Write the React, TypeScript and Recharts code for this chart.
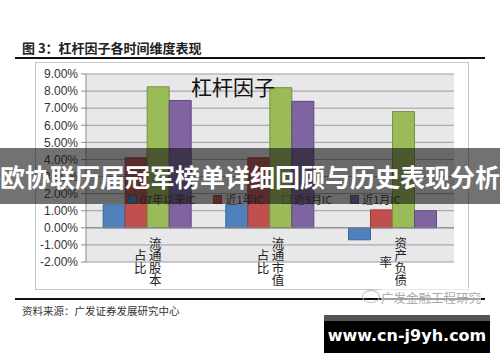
import React from "react";
import { BarChart, Bar, XAxis, YAxis, CartesianGrid, ReferenceLine } from "recharts";

const categories = ["流通股本占比", "流通市值占比", "资产负债率"];
const seriesNames = ["07年以来IC", "近1年IC", "近3月IC", "近1月IC"];
const ic07 = [1.35, 1.35, -0.7];
const ic1y = [4.1, 4.1, 1.05];
const ic3m = [8.25, 8.2, 6.8];
const ic1m = [7.45, 7.4, 1.0];
const yTicks = [-2, -1, 0, 1, 2, 3, 4, 5, 6, 7, 8, 9];

const fills = ["#4f81bd", "#c0504d", "#9bbb59", "#8064a2"];
const strokes = ["#3a6396", "#963c3a", "#77923f", "#5f4a7c"];
const keys = ["ic07", "ic1y", "ic3m", "ic1m"];

const data = categories.map((name, i) => ({
  name,
  ic07: ic07[i],
  ic1y: ic1y[i],
  ic3m: ic3m[i],
  ic1m: ic1m[i],
}));

const CJK = '"Noto Sans CJK SC", "Noto Sans", sans-serif';

const CatTick = (props: any) => {
  const { x, y, payload } = props;
  const label: string = String(payload.value);
  const cols: string[] = [];
  for (let i = 0; i < label.length; i += 4) cols.push(label.slice(i, i + 4));
  const step = 12.5;
  return (
    <g>
      {cols.map((col, ci) => {
        const cx = x + 8 - ci * 15;
        const startY = y - 1 - ((col.length - 1) * step) / 2;
        return col.split("").map((ch, k) => (
          <text
            key={ci + "-" + k}
            x={cx}
            y={startY + k * step}
            textAnchor="middle"
            dominantBaseline="central"
            fontSize={12.5}
            fontFamily={CJK}
            fill="#222"
          >
            {ch}
          </text>
        ));
      })}
    </g>
  );
};

const LegendBox = () => (
  <div style={{ display: "flex", gap: 18, fontFamily: CJK, fontSize: 11, color: "#333", alignItems: "center" }}>
    {seriesNames.map((n, i) => (
      <div key={n} style={{ display: "flex", alignItems: "center", gap: 3 }}>
        <span style={{ width: 7, height: 7, background: fills[i], border: `1px solid ${strokes[i]}`, display: "inline-block" }} />
        <span>{n}</span>
      </div>
    ))}
  </div>
);

export default function App() {
  return (
    <div style={{ position: "absolute", left: 0, top: 0, width: 500, height: 362, background: "#fff", overflow: "hidden" }}>
      <div style={{ position: "absolute", left: 22, top: 38, fontFamily: CJK, fontWeight: 700, fontSize: 13, color: "#222", whiteSpace: "nowrap" }}>
        图 3：杠杆因子各时间维度表现
      </div>
      <div style={{ position: "absolute", left: 15, top: 57, width: 470, height: 1.5, background: "#111" }} />

      <div style={{ position: "absolute", left: 35, top: 62, width: 432, height: 226, border: "1px solid #c4c4c4" }} />
      <div style={{ position: "absolute", left: 35, top: 62 }}>
        <BarChart
          width={434}
          height={228}
          data={data}
          margin={{ top: 12, right: 15, bottom: 0, left: 0 }}
          barGap={0}
          barCategoryGap="14%"
        >
          <CartesianGrid horizontal vertical={false} stroke="#9c9c9c" fill="#e8e8ea" fillOpacity={1} />
          <XAxis
            dataKey="name"
            axisLine={false}
            tickLine={false}
            tickSize={0}
            tickMargin={0}
            height={28}
            tick={<CatTick />}
            interval={0}
          />
          <YAxis
            domain={[-2, 9]}
            ticks={yTicks}
            width={51}
            interval={0}
            tickSize={5}
            tickMargin={3}
            axisLine={{ stroke: "#888" }}
            tickLine={{ stroke: "#888" }}
            tickFormatter={(v: number) => v.toFixed(2) + "%"}
            tick={{ fontSize: 12, fill: "#333", fontFamily: '"Liberation Sans", Arial, sans-serif' }}
          />
          <ReferenceLine y={0} stroke="#888" strokeWidth={1} />
          {keys.map((k, i) => (
            <Bar key={k} dataKey={k} name={seriesNames[i]} fill={fills[i]} stroke={strokes[i]} strokeWidth={1} isAnimationActive={false} />
          ))}
        </BarChart>
      </div>
      <div style={{ position: "absolute", left: 128, top: 191 }}>
        <LegendBox />
      </div>
      <div style={{ position: "absolute", left: 153, top: 71, width: 160, textAlign: "center", fontFamily: CJK, fontSize: 21, color: "#111", whiteSpace: "nowrap" }}>
        杠杆因子
      </div>

      <div style={{ position: "absolute", left: 15, top: 298, width: 470, height: 1.5, background: "#111" }} />
      <div style={{ position: "absolute", left: 22, top: 303, fontFamily: CJK, fontSize: 10.5, color: "#333", whiteSpace: "nowrap" }}>
        资料来源：广发证券发展研究中心
      </div>
      <div style={{ position: "absolute", left: 362, top: 290, width: 16, height: 11, borderRadius: "50%", border: "1px solid #bbb" }} />
      <div style={{ position: "absolute", left: 381, top: 288, fontFamily: CJK, fontSize: 12.5, color: "#aaa", whiteSpace: "nowrap", background: "rgba(255,255,255,0.6)" }}>
        广发金融工程研究
      </div>

      <div style={{ position: "absolute", left: 0, top: 148, width: 500, height: 56, background: "rgba(20,20,20,0.6)" }} />
      <div style={{ position: "absolute", left: 0, top: 160, width: 500, textAlign: "center", fontFamily: CJK, fontWeight: 700, fontSize: 25, lineHeight: "32px", color: "#fff", whiteSpace: "nowrap" }}>
        欧协联历届冠军榜单详细回顾与历史表现分析
      </div>

      <div style={{ position: "absolute", left: 324, top: 315, width: 166, height: 38, background: "#000" }} />
      <div style={{ position: "absolute", left: 324, top: 315, width: 166, height: 6, background: "#555" }} />
      <div style={{ position: "absolute", left: 324, top: 323, width: 166, textAlign: "center", fontFamily: '"DejaVu Sans", Verdana, sans-serif', fontWeight: 700, fontSize: 16, lineHeight: "26px", color: "#fff", whiteSpace: "nowrap" }}>
        www.cn-j9yh.com
      </div>
    </div>
  );
}
